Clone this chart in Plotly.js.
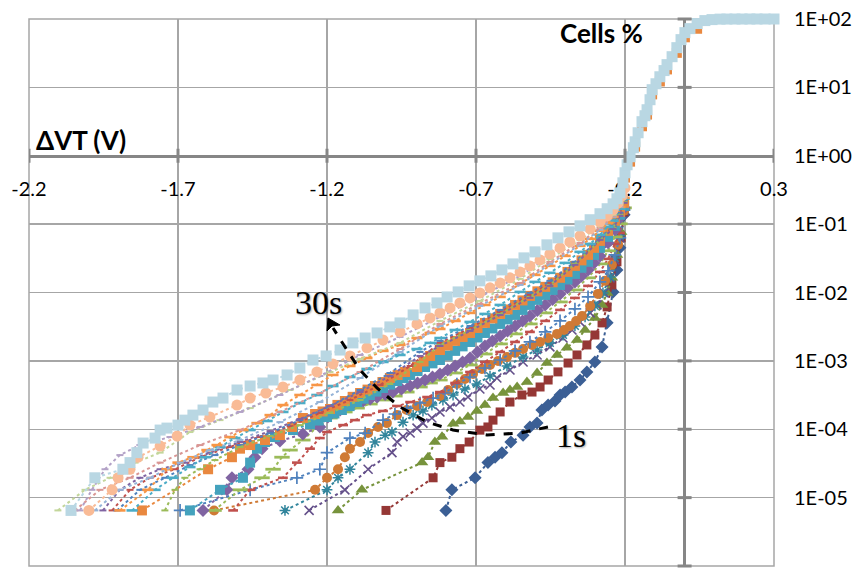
<!DOCTYPE html>
<html>
<head>
<meta charset="utf-8">
<script src="https://cdn.plot.ly/plotly-3.0.1.min.js"></script>
<style>
html,body{margin:0;padding:0;background:#ffffff;overflow:hidden;}
#chart{width:853px;height:575px;}
</style>
</head>
<body>
<div id="chart"></div>
<script>
// ---- axis ticks ----
const xTickVals = [-2.2, -1.7, -1.2, -0.7, -0.2, 0.3];
const xTickText = ['-2.2', '-1.7', '-1.2', '-0.7', '-0.2', '0.3'];
const yTickVals = [1e-6, 1e-5, 1e-4, 1e-3, 1e-2, 1e-1, 1, 10, 100];
const yTickText = ['1E-06', '1E-05', '1E-04', '1E-03', '1E-02', '1E-01', '1E+00', '1E+01', '1E+02'];

// ---- series (ΔVT in V, cells in %) ----
// 1s : dark blue diamonds
const s01_x = [-0.801, -0.781, -0.703, -0.660, -0.636, -0.613, -0.583, -0.542, -0.519, -0.495, -0.479, -0.458, -0.435, -0.418, -0.401, -0.378, -0.351, -0.328, -0.301, -0.277, -0.260, -0.240, -0.227, -0.217, -0.203];
const s01_y = [6.5e-6, 1.3e-5, 1.95e-5, 3.25e-5, 3.9e-5, 4.55e-5, 6.5e-5, 8.2e-5, 1.08e-4, 1.23e-4, 1.91e-4, 2.26e-4, 2.59e-4, 3.17e-4, 3.5e-4, 4.15e-4, 5.25e-4, 6.9e-4, 9.6e-4, 1.6e-3, 3.6e-3, 0.0102, 0.0214, 0.045, 0.137];
// maroon squares
const s02_x = [-1.002, -0.844, -0.821, -0.781, -0.754, -0.723, -0.687, -0.660, -0.643, -0.619, -0.586, -0.546, -0.512, -0.485, -0.458, -0.425, -0.391, -0.361, -0.328, -0.301, -0.277, -0.260, -0.244, -0.227, -0.213, -0.203];
const s02_y = [6.5e-6, 1.95e-5, 3.25e-5, 3.9e-5, 5.2e-5, 6.5e-5, 9.7e-5, 1.08e-4, 1.36e-4, 1.79e-4, 2.5e-4, 3.17e-4, 3.5e-4, 4.15e-4, 5.25e-4, 6.9e-4, 9.3e-4, 1.22e-3, 1.71e-3, 2.39e-3, 3.59e-3, 6.15e-3, 0.0129, 0.0281, 0.063, 0.151];
// green triangles
const s03_x = [-1.163, -1.083, -0.881, -0.861, -0.838, -0.814, -0.777, -0.754, -0.727, -0.697, -0.670, -0.643, -0.609, -0.586, -0.562, -0.529, -0.495, -0.462, -0.428, -0.395, -0.361, -0.334, -0.301, -0.277, -0.260, -0.244, -0.227, -0.213, -0.203];
const s03_y = [6.5e-6, 1.3e-5, 3.25e-5, 3.9e-5, 6.5e-5, 7.8e-5, 1.2e-4, 1.3e-4, 1.51e-4, 1.85e-4, 2.26e-4, 2.86e-4, 3.39e-4, 3.75e-4, 4.15e-4, 4.91e-4, 6.65e-4, 9.3e-4, 1.22e-3, 1.55e-3, 2.02e-3, 2.83e-3, 4.25e-3, 6.58e-3, 9.87e-3, 0.0164, 0.0355, 0.077, 0.173];
// purple x
const s04_x = [-1.260, -1.140, -1.062, -0.982, -0.965, -0.945, -0.921, -0.898, -0.878, -0.848, -0.821, -0.787, -0.754, -0.727, -0.687, -0.653, -0.630, -0.586, -0.542, -0.495, -0.452, -0.408, -0.378, -0.351, -0.317, -0.294, -0.270, -0.250, -0.234, -0.217, -0.203];
const s04_y = [6.5e-6, 1.3e-5, 2.6e-5, 4.55e-5, 6.5e-5, 7.8e-5, 8.8e-5, 1.04e-4, 1.23e-4, 1.46e-4, 1.79e-4, 2.11e-4, 2.5e-4, 2.96e-4, 3.88e-4, 4.44e-4, 5.62e-4, 7.36e-4, 9.64e-4, 1.22e-3, 1.6e-3, 2.16e-3, 2.83e-3, 3.71e-3, 5.03e-3, 6.58e-3, 9.87e-3, 0.0164, 0.030, 0.063, 0.16];
// teal asterisks
const s05_x = [-1.341, -1.200, -1.163, -1.123, -1.062, -1.039, -1.005, -0.982, -0.945, -0.911, -0.878, -0.848, -0.811, -0.777, -0.737, -0.697, -0.653, -0.596, -0.542, -0.495, -0.452, -0.408, -0.368, -0.334, -0.301, -0.274, -0.250, -0.234, -0.217, -0.203];
const s05_y = [6.5e-6, 1.3e-5, 1.95e-5, 2.6e-5, 4.55e-5, 6.5e-5, 8.2e-5, 9.1e-5, 1.27e-4, 1.61e-4, 1.85e-4, 2.26e-4, 2.68e-4, 3.17e-4, 3.88e-4, 4.59e-4, 6.0e-4, 8.42e-4, 1.14e-3, 1.44e-3, 1.83e-3, 2.39e-3, 3.24e-3, 4.39e-3, 6.37e-3, 9.87e-3, 0.0169, 0.032, 0.0674, 0.16];
// orange circles
const s06_x = [-1.579, -1.240, -1.200, -1.163, -1.140, -1.123, -1.089, -1.062, -1.029, -0.999, -0.965, -0.932, -0.898, -0.864, -0.821, -0.794, -0.764, -0.737, -0.710, -0.680, -0.653, -0.626, -0.596, -0.569, -0.542, -0.512, -0.485, -0.458, -0.428, -0.405, -0.385, -0.364, -0.344, -0.317, -0.291, -0.267, -0.244, -0.223, -0.203];
const s06_y = [6.5e-6, 1.3e-5, 1.95e-5, 2.6e-5, 3.9e-5, 5.2e-5, 6.5e-5, 8.8e-5, 1.08e-4, 1.23e-4, 1.61e-4, 1.91e-4, 2.19e-4, 2.5e-4, 3.06e-4, 3.75e-4, 4.59e-4, 5.43e-4, 6.43e-4, 7.61e-4, 8.71e-4, 9.97e-4, 1.14e-3, 1.31e-3, 1.49e-3, 1.71e-3, 1.89e-3, 2.16e-3, 2.48e-3, 2.83e-3, 3.24e-3, 3.84e-3, 4.54e-3, 6.36e-3, 9.54e-3, 0.0148, 0.0254, 0.0498, 0.157];
// blue plus
const s07_x = [-1.693, -1.458, -1.301, -1.224, -1.200, -1.123, -1.072, -1.012, -0.972, -0.932, -0.888, -0.844, -0.804, -0.764, -0.720, -0.670, -0.619, -0.569, -0.519, -0.468, -0.418, -0.368, -0.324, -0.284, -0.257, -0.234, -0.217, -0.203];
const s07_y = [6.5e-6, 1.3e-5, 1.95e-5, 2.6e-5, 4.55e-5, 7.43e-5, 8.8e-5, 1.36e-4, 1.67e-4, 2.04e-4, 2.42e-4, 2.86e-4, 3.39e-4, 4.59e-4, 5.81e-4, 7.87e-4, 1.03e-3, 1.4e-3, 1.89e-3, 2.65e-3, 3.84e-3, 5.75e-3, 8.62e-3, 0.0143, 0.0207, 0.0355, 0.063, 0.162];
// red short dashes
const s08_x = [-1.515, -1.458, -1.348, -1.301, -1.257, -1.224, -1.200, -1.146, -1.106, -1.066, -1.012, -0.965, -0.921, -0.864, -0.821, -0.770, -0.720, -0.670, -0.619, -0.569, -0.519, -0.468, -0.418, -0.368, -0.324, -0.284, -0.257, -0.234, -0.217, -0.203];
const s08_y = [6.5e-6, 1.3e-5, 1.95e-5, 3.25e-5, 5.2e-5, 7.43e-5, 9.1e-5, 1.15e-4, 1.36e-4, 1.61e-4, 1.85e-4, 2.19e-4, 2.5e-4, 2.96e-4, 3.5e-4, 4.75e-4, 6.88e-4, 9.64e-4, 1.35e-3, 1.89e-3, 2.65e-3, 3.84e-3, 5.56e-3, 8.33e-3, 0.0125, 0.02, 0.031, 0.0515, 0.0746, 0.168];
// green long dashes
const s09_x = [-1.579, -1.492, -1.418, -1.381, -1.351, -1.324, -1.281, -1.237, -1.190, -1.140, -1.099, -1.056, -1.012, -0.972, -0.932, -0.888, -0.854, -0.821, -0.770, -0.720, -0.670, -0.619, -0.569, -0.519, -0.468, -0.418, -0.368, -0.324, -0.284, -0.257, -0.234, -0.217, -0.203];
const s09_y = [6.5e-6, 1.3e-5, 1.95e-5, 2.6e-5, 3.9e-5, 4.96e-5, 6.95e-5, 1.04e-4, 1.46e-4, 1.79e-4, 2.04e-4, 2.34e-4, 2.68e-4, 3.06e-4, 3.5e-4, 4.15e-4, 4.75e-4, 5.25e-4, 6.65e-4, 8.71e-4, 1.26e-3, 1.77e-3, 2.48e-3, 3.47e-3, 5.03e-3, 7.28e-3, 0.0109, 0.0164, 0.0262, 0.0407, 0.0652, 0.101, 0.173];
// purple diamonds
const s10_x = [-1.616, -1.536, -1.519, -1.465, -1.442, -1.418, -1.358, -1.281, -1.224, -1.197, -1.156, -1.116, -1.079, -1.055, -1.032, -1.005, -0.979, -0.950, -0.921, -0.896, -0.871, -0.846, -0.821, -0.795, -0.770, -0.745, -0.720, -0.695, -0.670, -0.645, -0.619, -0.594, -0.569, -0.544, -0.519, -0.494, -0.468, -0.443, -0.418, -0.393, -0.368, -0.346, -0.324, -0.304, -0.284, -0.257, -0.234, -0.217, -0.203];
const s10_y = [6.5e-6, 1.3e-5, 1.95e-5, 2.6e-5, 3.9e-5, 5.2e-5, 6.72e-5, 8.51e-5, 1.08e-4, 1.51e-4, 1.91e-4, 2.34e-4, 2.59e-4, 2.77e-4, 2.96e-4, 3.22e-4, 3.5e-4, 3.88e-4, 4.29e-4, 4.75e-4, 5.25e-4, 5.8e-4, 6.43e-4, 7.35e-4, 8.42e-4, 9.6e-4, 1.1e-3, 1.35e-3, 1.65e-3, 1.96e-3, 2.32e-3, 2.74e-3, 3.24e-3, 3.84e-3, 4.54e-3, 5.47e-3, 6.58e-3, 7.9e-3, 9.54e-3, 1.17e-2, 0.0143, 0.0175, 0.0214, 0.027, 0.0343, 0.0532, 0.0826, 0.124, 0.173];
// teal squares
const s11_x = [-1.660, -1.559, -1.482, -1.458, -1.435, -1.408, -1.375, -1.314, -1.257, -1.228, -1.200, -1.175, -1.150, -1.124, -1.099, -1.077, -1.056, -1.034, -1.012, -0.988, -0.965, -0.943, -0.921, -0.896, -0.871, -0.846, -0.821, -0.795, -0.770, -0.745, -0.720, -0.695, -0.670, -0.645, -0.619, -0.594, -0.569, -0.544, -0.519, -0.494, -0.468, -0.443, -0.418, -0.393, -0.368, -0.346, -0.324, -0.304, -0.284, -0.257, -0.234, -0.217, -0.203];
const s11_y = [6.5e-6, 1.3e-5, 1.95e-5, 3.25e-5, 5.2e-5, 6.5e-5, 7.69e-5, 9.73e-5, 1.19e-4, 1.34e-4, 1.51e-4, 1.7e-4, 1.91e-4, 2.18e-4, 2.5e-4, 2.8e-4, 3.17e-4, 3.55e-4, 4.01e-4, 4.5e-4, 5.08e-4, 5.6e-4, 6.22e-4, 7.1e-4, 8.14e-4, 9.2e-4, 1.03e-3, 1.2e-3, 1.4e-3, 1.63e-3, 1.89e-3, 2.2e-3, 2.56e-3, 2.98e-3, 3.47e-3, 4.04e-3, 4.7e-3, 5.56e-3, 6.58e-3, 7.8e-3, 9.22e-3, 1.09e-2, 0.0129, 0.0155, 0.0187, 0.023, 0.0281, 0.0355, 0.045, 0.0652, 0.0944, 0.137, 0.185];
// orange squares
const s12_x = [-1.821, -1.599, -1.519, -1.492, -1.458, -1.408, -1.358, -1.317, -1.281, -1.240, -1.215, -1.190, -1.165, -1.140, -1.114, -1.089, -1.064, -1.039, -1.014, -0.989, -0.963, -0.938, -0.898, -0.876, -0.854, -0.821, -0.795, -0.770, -0.745, -0.720, -0.695, -0.670, -0.645, -0.619, -0.594, -0.569, -0.544, -0.519, -0.494, -0.468, -0.443, -0.418, -0.393, -0.368, -0.346, -0.324, -0.304, -0.284, -0.257, -0.234, -0.217, -0.203, -0.200, -0.183, -0.166, -0.143, -0.126, -0.109, -0.083, -0.059, -0.026, 0.001, 0.042];
const s12_y = [6.5e-6, 2.6e-5, 3.9e-5, 5.2e-5, 5.87e-5, 6.95e-5, 8.22e-5, 1.08e-4, 1.46e-4, 1.67e-4, 1.82e-4, 1.98e-4, 2.27e-4, 2.59e-4, 2.98e-4, 3.39e-4, 3.8e-4, 4.29e-4, 4.9e-4, 5.62e-4, 6.2e-4, 6.88e-4, 8.14e-4, 9.8e-4, 1.18e-3, 1.44e-3, 1.68e-3, 1.96e-3, 2.24e-3, 2.56e-3, 3.03e-3, 3.59e-3, 4.18e-3, 4.86e-3, 5.65e-3, 6.58e-3, 7.66e-3, 8.92e-3, 1.04e-2, 0.0121, 0.0141, 0.0164, 0.020, 0.0245, 0.0295, 0.0355, 0.045, 0.0569, 0.0798, 0.112, 0.151, 0.205, 0.48, 0.82, 1.36, 2.7, 4.0, 7.9, 12.2, 18.3, 32, 54, 72];
// red dotted
const s13_x = [-1.921, -1.861, -1.794, -1.710, -1.626, -1.526, -1.425, -1.324, -1.224, -1.123, -1.022, -0.921, -0.821, -0.720, -0.619, -0.519, -0.452, -0.368, -0.284, -0.240, -0.217, -0.203];
const s13_y = [6.5e-6, 1.3e-5, 1.95e-5, 2.6e-5, 3.9e-5, 5.49e-5, 7.69e-5, 1.11e-4, 1.73e-4, 2.68e-4, 4.44e-4, 8.42e-4, 1.83e-3, 3.03e-3, 5.2e-3, 9.22e-3, 0.0138, 0.0271, 0.0609, 0.0913, 0.142, 0.219];
// blue dotted
const s14_x = [-1.905, -1.828, -1.744, -1.660, -1.576, -1.492, -1.391, -1.291, -1.190, -1.089, -0.989, -0.888, -0.821, -0.720, -0.619, -0.519, -0.452, -0.368, -0.284, -0.240, -0.217, -0.203];
const s14_y = [6.5e-6, 1.3e-5, 1.95e-5, 2.99e-5, 4.19e-5, 5.87e-5, 8.8e-5, 1.36e-4, 2.19e-4, 3.75e-4, 6.65e-4, 1.35e-3, 1.96e-3, 3.24e-3, 5.56e-3, 9.87e-3, 0.0148, 0.0281, 0.063, 0.0944, 0.146, 0.219];
// green dotted
const s15_x = [-1.744, -1.710, -1.677, -1.626, -1.576, -1.492, -1.391, -1.291, -1.190, -1.089, -0.989, -0.888, -0.821, -0.720, -0.619, -0.519, -0.452, -0.368, -0.284, -0.240, -0.217, -0.203];
const s15_y = [6.5e-6, 1.3e-5, 1.95e-5, 2.6e-5, 3.54e-5, 5.49e-5, 7.95e-5, 1.15e-4, 1.73e-4, 2.68e-4, 4.59e-4, 9.64e-4, 1.71e-3, 2.83e-3, 4.86e-3, 8.62e-3, 0.0129, 0.0262, 0.0589, 0.0883, 0.137, 0.212];
// purple dotted
const s16_x = [-1.952, -1.895, -1.828, -1.760, -1.677, -1.593, -1.492, -1.391, -1.291, -1.190, -1.089, -0.989, -0.888, -0.821, -0.720, -0.619, -0.519, -0.452, -0.368, -0.284, -0.240, -0.217, -0.203];
const s16_y = [6.5e-6, 1.3e-5, 1.95e-5, 2.6e-5, 3.25e-5, 4.55e-5, 6.5e-5, 9.41e-5, 1.41e-4, 2.19e-4, 3.5e-4, 6.01e-4, 1.18e-3, 1.65e-3, 2.74e-3, 4.7e-3, 8.33e-3, 0.0125, 0.0254, 0.0589, 0.0853, 0.132, 0.205];
// teal dashes
const s17_x = [-1.854, -1.777, -1.717, -1.660, -1.609, -1.559, -1.509, -1.458, -1.401, -1.348, -1.291, -1.234, -1.180, -1.123, -1.066, -1.012, -0.955, -0.898, -0.854, -0.821, -0.770, -0.720, -0.670, -0.619, -0.552, -0.502, -0.452, -0.401, -0.351, -0.317, -0.284, -0.257, -0.240, -0.217, -0.203];
const s17_y = [6.5e-6, 1.3e-5, 1.95e-5, 2.8e-5, 3.9e-5, 5.49e-5, 7.43e-5, 9.73e-5, 1.32e-4, 1.79e-4, 2.42e-4, 3.17e-4, 4.29e-4, 5.81e-4, 7.61e-4, 9.64e-4, 1.22e-3, 1.49e-3, 1.83e-3, 2.16e-3, 2.83e-3, 3.71e-3, 4.86e-3, 6.58e-3, 0.0102, 0.0143, 0.0194, 0.0271, 0.0393, 0.0515, 0.0697, 0.0913, 0.112, 0.168, 0.235];
// orange dashes
const s18_x = [-1.895, -1.801, -1.737, -1.700, -1.650, -1.603, -1.569, -1.526, -1.482, -1.435, -1.391, -1.348, -1.291, -1.234, -1.180, -1.123, -1.066, -1.012, -0.955, -0.898, -0.854, -0.821, -0.770, -0.720, -0.670, -0.619, -0.552, -0.502, -0.452, -0.401, -0.351, -0.317, -0.284, -0.257, -0.240, -0.217, -0.203];
const s18_y = [6.5e-6, 1.3e-5, 2.6e-5, 3.25e-5, 3.9e-5, 4.96e-5, 5.87e-5, 7.69e-5, 9.73e-5, 1.23e-4, 1.61e-4, 2.26e-4, 3.17e-4, 4.44e-4, 6.22e-4, 8.42e-4, 1.1e-3, 1.4e-3, 1.71e-3, 2.16e-3, 2.56e-3, 2.93e-3, 3.84e-3, 5.03e-3, 6.58e-3, 8.62e-3, 0.0134, 0.0181, 0.0245, 0.0343, 0.0481, 0.0609, 0.0798, 0.104, 0.128, 0.179, 0.243];
// pale blue dotted
const s19_x = [-1.979, -1.895, -1.794, -1.693, -1.593, -1.492, -1.358, -1.224, -1.089, -0.955, -0.821, -0.687, -0.552, -0.452, -0.351, -0.284, -0.240, -0.217, -0.203];
const s19_y = [6.5e-6, 1.3e-5, 1.95e-5, 3.25e-5, 4.96e-5, 6.95e-5, 1.27e-4, 2.5e-4, 5.62e-4, 1.35e-3, 3.24e-3, 6.36e-3, 0.0129, 0.0262, 0.0498, 0.0826, 0.128, 0.179, 0.243];
// pale red dotted
const s20_x = [-2.046, -1.962, -1.861, -1.760, -1.626, -1.492, -1.358, -1.224, -1.089, -0.955, -0.821, -0.687, -0.552, -0.452, -0.351, -0.284, -0.240, -0.217, -0.203];
const s20_y = [6.5e-6, 1.3e-5, 1.95e-5, 3.25e-5, 5.87e-5, 9.73e-5, 1.79e-4, 3.39e-4, 6.88e-4, 1.49e-3, 3.47e-3, 6.81e-3, 0.0138, 0.0281, 0.0532, 0.0883, 0.132, 0.185, 0.251];
// pale green dotted
const s21_x = [-2.103, -2.012, -1.928, -1.844, -1.760, -1.660, -1.559, -1.458, -1.324, -1.190, -1.089, -0.955, -0.821, -0.687, -0.552, -0.452, -0.351, -0.284, -0.240, -0.217, -0.203];
const s21_y = [6.5e-6, 1.3e-5, 1.95e-5, 3.25e-5, 4.55e-5, 9.1e-5, 1.36e-4, 2.04e-4, 3.75e-4, 6.88e-4, 1.07e-3, 1.83e-3, 3.84e-3, 7.53e-3, 0.0158, 0.031, 0.0589, 0.0944, 0.137, 0.192, 0.26];
// pale purple dotted
const s22_x = [-2.029, -1.989, -1.945, -1.895, -1.828, -1.727, -1.626, -1.492, -1.358, -1.224, -1.089, -0.955, -0.821, -0.687, -0.552, -0.452, -0.351, -0.284, -0.240, -0.217, -0.203];
const s22_y = [6.5e-6, 1.3e-5, 2.6e-5, 4.19e-5, 5.87e-5, 7.69e-5, 1.08e-4, 1.79e-4, 3.17e-4, 6.01e-4, 1.22e-3, 2.24e-3, 4.39e-3, 8.62e-3, 0.0175, 0.0343, 0.0652, 0.101, 0.146, 0.205, 0.269];
// salmon circles
const s23_x = [-1.999, -1.921, -1.901, -1.861, -1.834, -1.760, -1.703, -1.660, -1.593, -1.502, -1.458, -1.405, -1.348, -1.291, -1.234, -1.180, -1.123, -1.066, -1.012, -0.955, -0.898, -0.854, -0.821, -0.787, -0.754, -0.720, -0.687, -0.653, -0.619, -0.586, -0.552, -0.519, -0.485, -0.452, -0.418, -0.385, -0.351, -0.317, -0.284, -0.260, -0.240, -0.223, -0.210, -0.200];
const s23_y = [6.5e-6, 1.3e-5, 1.95e-5, 2.6e-5, 3.9e-5, 5.68e-5, 7.95e-5, 1.15e-4, 1.51e-4, 2.26e-4, 2.86e-4, 3.39e-4, 4.15e-4, 5.25e-4, 6.88e-4, 9.01e-4, 1.18e-3, 1.55e-3, 2.02e-3, 2.65e-3, 3.47e-3, 4.25e-3, 5.03e-3, 5.95e-3, 7.04e-3, 8.33e-3, 9.87e-3, 0.0117, 0.0138, 0.0164, 0.02, 0.0245, 0.03, 0.0367, 0.045, 0.055, 0.0674, 0.0853, 0.108, 0.132, 0.162, 0.205, 0.26, 0.34];
// 30s : light blue squares
const s24_x = [-2.059, -1.979, -1.885, -1.861, -1.838, -1.817, -1.777, -1.760, -1.737, -1.700, -1.677, -1.650, -1.616, -1.583, -1.549, -1.502, -1.458, -1.415, -1.381, -1.334, -1.291, -1.247, -1.203, -1.156, -1.113, -1.072, -1.032, -0.989, -0.955, -0.911, -0.871, -0.831, -0.797, -0.760, -0.723, -0.687, -0.650, -0.613, -0.576, -0.539, -0.502, -0.462, -0.425, -0.388, -0.351, -0.317, -0.284, -0.260, -0.240, -0.227, -0.217, -0.207, -0.200, -0.193, -0.183, -0.172, -0.166, -0.156, -0.143, -0.133, -0.126, -0.116, -0.109, -0.096, -0.083, -0.069, -0.059, -0.042, -0.026, -0.012, 0.001, 0.018, 0.042, 0.068, 0.092, 0.119, 0.142, 0.169, 0.193, 0.219, 0.243, 0.270, 0.300];
const s24_y = [6.5e-6, 1.95e-5, 2.6e-5, 3.25e-5, 4.55e-5, 6.28e-5, 7.43e-5, 9.73e-5, 1.04e-4, 1.15e-4, 1.36e-4, 1.61e-4, 1.91e-4, 2.5e-4, 2.86e-4, 3.75e-4, 4.29e-4, 4.75e-4, 5.25e-4, 6.22e-4, 7.87e-4, 1.03e-3, 1.18e-3, 1.44e-3, 1.83e-3, 2.16e-3, 2.56e-3, 3.14e-3, 3.59e-3, 4.7e-3, 5.95e-3, 7.04e-3, 8.62e-3, 0.0102, 0.0125, 0.0148, 0.0175, 0.0214, 0.0262, 0.0321, 0.0393, 0.0498, 0.063, 0.0771, 0.0944, 0.116, 0.142, 0.168, 0.198, 0.235, 0.287, 0.402, 0.564, 0.738, 0.967, 1.31, 1.60, 2.17, 3.15, 3.85, 4.71, 6.6, 9.25, 11.3, 14.3, 17.6, 21.5, 28.1, 38.1, 49.9, 63.2, 72.3, 85.7, 94.8, 98, 99.6, 99.8, 99.9, 99.9, 100, 100, 100, 100];

// ---- annotation path points (paper fractions) ----
const arrowPathX = [0.6966, 0.6591, 0.6148, 0.5691, 0.5342, 0.4980, 0.4671, 0.4443, 0.4268, 0.4081];
const arrowPathY = [0.2541, 0.2431, 0.2395, 0.2486, 0.2633, 0.2907, 0.3254, 0.3583, 0.3949, 0.4351];

function series(x, y, color, marker, lineColor) {
  return {
    type: 'scatter', mode: 'lines+markers', x: x, y: y,
    line: {color: lineColor || color, width: 2, dash: 'dot'},
    marker: Object.assign({color: color, line: {width: 0, color: color}}, marker),
    hoverinfo: 'skip', showlegend: false, cliponaxis: false
  };
}
function openM(sym, size, w, color) { return {symbol: sym, size: size, line: {width: w, color: color}}; }

const traces = [
  series(s01_x, s01_y, '#3B5F95', {symbol: 'diamond', size: 10}),
  series(s02_x, s02_y, '#953735', {symbol: 'square', size: 9}),
  series(s03_x, s03_y, '#77933C', {symbol: 'triangle-up', size: 11}),
  series(s04_x, s04_y, '#64508A', openM('x-thin-open', 9, 1.6, '#64508A')),
  series(s05_x, s05_y, '#31859C', openM('asterisk-open', 9, 1.5, '#31859C')),
  series(s06_x, s06_y, '#CF7A35', {symbol: 'circle', size: 10}),
  series(s07_x, s07_y, '#4F81BD', openM('cross-thin-open', 9, 1.7, '#4F81BD')),
  series(s08_x, s08_y, '#C0504D', openM('line-ew-open', 7, 2.6, '#C0504D')),
  series(s09_x, s09_y, '#9BBB59', openM('line-ew-open', 11, 2.8, '#9BBB59')),
  series(s10_x, s10_y, '#8064A2', {symbol: 'diamond', size: 10}),
  series(s11_x, s11_y, '#44A2BD', {symbol: 'square', size: 10}),
  series(s12_x, s12_y, '#E9883F', {symbol: 'square', size: 10}),
  series(s13_x, s13_y, '#C0504D', openM('line-ew-open', 5, 2, '#C0504D')),
  series(s14_x, s14_y, '#4F81BD', openM('line-ew-open', 5, 2, '#4F81BD')),
  series(s15_x, s15_y, '#9BBB59', openM('line-ew-open', 5, 2, '#9BBB59')),
  series(s16_x, s16_y, '#8064A2', openM('line-ew-open', 5, 2, '#8064A2')),
  series(s17_x, s17_y, '#4BACC6', openM('line-ew-open', 8, 2.6, '#4BACC6')),
  series(s18_x, s18_y, '#F79646', openM('line-ew-open', 8, 2.6, '#F79646')),
  series(s19_x, s19_y, '#95B3D7', openM('line-ew-open', 5, 2, '#95B3D7')),
  series(s20_x, s20_y, '#D99694', openM('line-ew-open', 5, 2, '#D99694')),
  series(s21_x, s21_y, '#C3D69B', openM('line-ew-open', 5, 2, '#C3D69B')),
  series(s22_x, s22_y, '#B3A2C7', openM('line-ew-open', 5, 2, '#B3A2C7')),
  series(s23_x, s23_y, '#F9BB96', {symbol: 'circle', size: 11}),
  series(s24_x, s24_y, '#B9D7E3', {symbol: 'square', size: 11})
];

const axisGray = '#868686';
const gridGray = '#A6A6A6';
const shapes = [];
shapes.push({type: 'rect', xref: 'paper', yref: 'paper', x0: 0, x1: 1, y0: 0, y1: 1,
  line: {color: gridGray, width: 1.5}, layer: 'below'});
// tick marks crossing the horizontal axis (which sits at 1E+00 -> paper 0.75)
const yAxisPaperPos = (Math.log10(1) + 6) / 8;
xTickVals.forEach(v => shapes.push({type: 'line', xref: 'x', yref: 'paper', x0: v, x1: v,
  ysizemode: 'pixel', yanchor: yAxisPaperPos, y0: -7, y1: 7, line: {color: axisGray, width: 3}}));
// tick marks crossing the vertical axis at x = 0
yTickVals.forEach(v => { const p = (Math.log10(v) + 6) / 8;
  shapes.push({type: 'line', xref: 'x', yref: 'paper', xsizemode: 'pixel', xanchor: 0, x0: -7, x1: 7,
    y0: p, y1: p, line: {color: axisGray, width: 3}}); });
// dashed arrow "1s" -> "30s"
let pth = 'M ' + arrowPathX[0] + ',' + arrowPathY[0];
for (let i = 1; i < arrowPathX.length; i++) pth += ' L ' + arrowPathX[i] + ',' + arrowPathY[i];
shapes.push({type: 'path', xref: 'paper', yref: 'paper', path: pth,
  line: {color: '#000', width: 3, dash: 'dash'}});
shapes.push({type: 'path', xref: 'paper', yref: 'paper',
  path: 'M 0.4013,0.4534 L 0.4000,0.4296 L 0.4067,0.4388 L 0.4174,0.4406 Z',
  fillcolor: '#000', line: {color: '#000', width: 1}});

const layout = {
  width: 853, height: 575,
  margin: {l: 29, r: 79, t: 19, b: 9, pad: 0},
  paper_bgcolor: '#ffffff', plot_bgcolor: '#ffffff',
  showlegend: false,
  font: {family: 'Lato, sans-serif', size: 20, color: '#000'},
  xaxis: {
    type: 'linear', range: [-2.2, 0.3], autorange: false,
    tickmode: 'array', tickvals: xTickVals, ticktext: xTickText,
    showgrid: true, gridcolor: gridGray, gridwidth: 1.5,
    zeroline: true, zerolinecolor: axisGray, zerolinewidth: 3,
    showline: true, linecolor: axisGray, linewidth: 3,
    anchor: 'free', position: yAxisPaperPos,
    ticks: '', ticklabelstandoff: 14,
    tickfont: {family: 'Lato, sans-serif', size: 20, color: '#000'},
    layer: 'below traces', automargin: false, fixedrange: true
  },
  yaxis: {
    type: 'log', range: [-6, 2], autorange: false,
    tickmode: 'array', tickvals: yTickVals, ticktext: yTickText,
    side: 'right', showgrid: true, gridcolor: gridGray, gridwidth: 1.5,
    showline: false, zeroline: false, ticks: '', ticklabelstandoff: 19,
    tickfont: {family: 'Lato, sans-serif', size: 20, color: '#000'},
    layer: 'below traces', automargin: false, fixedrange: true
  },
  shapes: shapes,
  annotations: [
    {xref: 'paper', yref: 'paper', x: 0.0067, y: 0.7788, xanchor: 'left', yanchor: 'middle',
     text: '<b>ΔVT (V)</b>', showarrow: false, font: {family: 'Lato, sans-serif', size: 26, color: '#000'}},
    {xref: 'paper', yref: 'paper', x: 0.7678, y: 0.9744, xanchor: 'center', yanchor: 'middle',
     text: '<b>Cells %</b>', showarrow: false, font: {family: 'Lato, sans-serif', size: 26, color: '#000'}},
    {xref: 'paper', yref: 'paper', x: 0.389, y: 0.481, xanchor: 'center', yanchor: 'middle',
     text: '30s', showarrow: false, font: {family: 'Liberation Serif, serif', size: 34, color: '#000', shadow: '1px 1px 2px rgba(0,0,0,0.35)'}},
    {xref: 'paper', yref: 'paper', x: 0.7275, y: 0.2377, xanchor: 'center', yanchor: 'middle',
     text: '1s', showarrow: false, font: {family: 'Liberation Serif, serif', size: 34, color: '#000', shadow: '1px 1px 2px rgba(0,0,0,0.35)'}}
  ]
};

Plotly.newPlot('chart', traces, layout, {staticPlot: true, displayModeBar: false});
</script>
</body>
</html>
